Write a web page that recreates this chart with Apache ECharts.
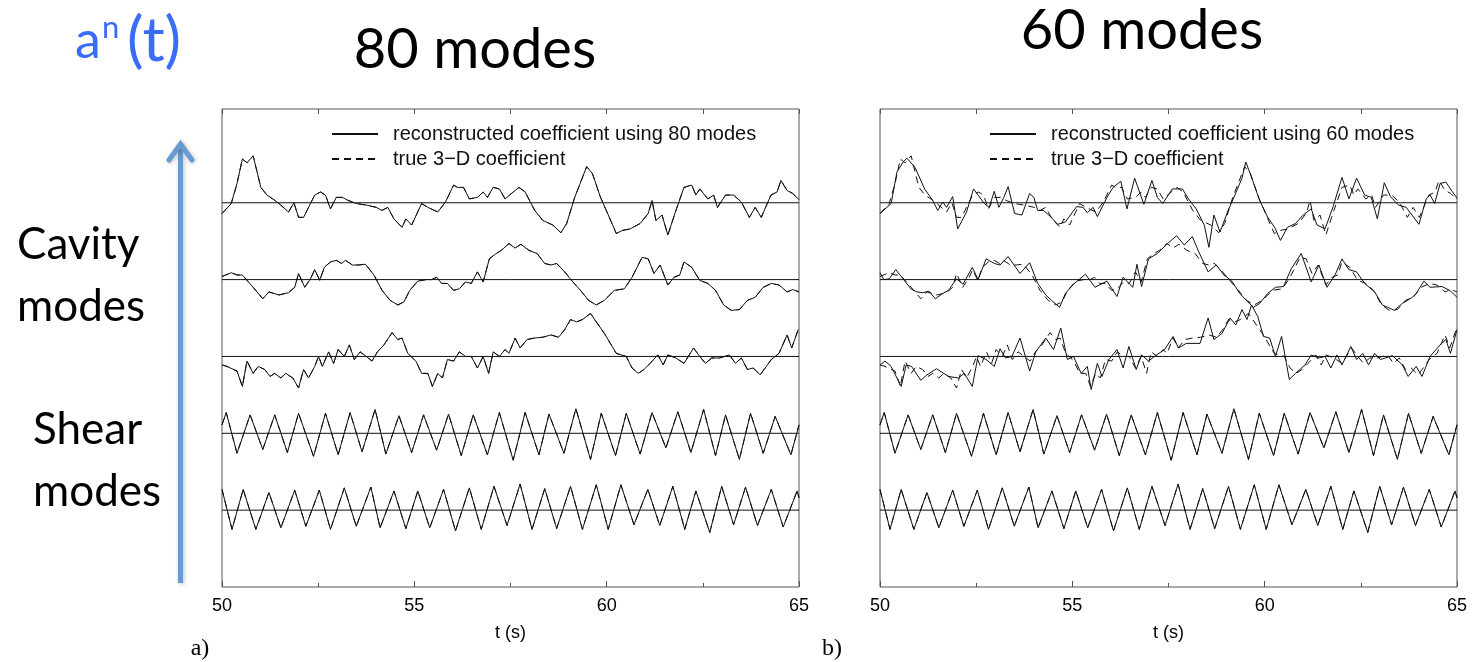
<!DOCTYPE html>
<html><head><meta charset="utf-8">
<script src="https://cdn.jsdelivr.net/npm/echarts@6/dist/echarts.min.js"></script>
<style>html,body{margin:0;padding:0;background:#fff}#c{width:1479px;height:662px}</style>
</head><body><div id="c"></div><script>
// ---------- data (t in s, value in units where trace spacing = 100) ----------
const xTickLabels = ['50', '55', '60', '65'];
const offsets = [500, 400, 300, 200, 100];   // top cavity ... lower shear

// true 3-D coefficient (the 80-mode reconstruction is indistinguishable from it)
const cavTop = [[50.00,-14],[50.24,-1],[50.39,25],[50.53,57],[50.65,52],[50.81,61],[51.01,20],[51.17,10],[51.32,5],[51.48,-1],[51.73,-12],[51.87,0],[51.99,-19],[52.12,-19],[52.41,10],[52.56,14],[52.69,10],[52.82,-8],[52.97,7],[53.13,7],[53.28,3],[53.49,-1],[53.75,-3],[54.01,-6],[54.16,-10],[54.31,-6],[54.47,-21],[54.68,-32],[54.78,-21],[54.93,-29],[55.19,-1],[55.35,-6],[55.61,-12],[55.81,1],[56.02,23],[56.12,20],[56.28,20],[56.43,5],[56.64,7],[56.79,14],[56.90,7],[57.05,20],[57.21,18],[57.36,5],[57.57,14],[57.72,20],[57.88,14],[58.13,-10],[58.34,-23],[58.60,-29],[58.81,-39],[58.96,-27],[59.17,7],[59.48,47],[59.63,38],[59.84,7],[59.99,-10],[60.25,-40],[60.41,-36],[60.61,-34],[60.87,-27],[61.08,-14],[61.18,3],[61.28,-23],[61.44,-16],[61.59,-42],[61.80,-10],[62.01,20],[62.21,23],[62.32,10],[62.42,18],[62.63,5],[62.78,10],[62.88,-6],[63.09,10],[63.30,10],[63.50,1],[63.71,-19],[63.86,-6],[64.02,-19],[64.27,10],[64.43,14],[64.53,29],[64.69,16],[64.84,12],[65.00,4]];
const cavMid = [[50.00,4],[50.24,9],[50.39,6],[50.53,6],[50.65,-1],[50.81,-10],[51.06,-25],[51.22,-16],[51.48,-20],[51.73,-17],[51.89,-10],[51.99,8],[52.15,-10],[52.30,1],[52.41,13],[52.54,-1],[52.66,16],[52.82,23],[52.97,25],[53.11,21],[53.21,25],[53.39,19],[53.54,19],[53.73,20],[53.95,6],[54.16,-14],[54.37,-27],[54.57,-33],[54.73,-29],[54.88,-14],[55.09,-2],[55.30,0],[55.45,0],[55.58,3],[55.71,-5],[55.86,-5],[56.02,-14],[56.17,-12],[56.33,-3],[56.48,-5],[56.64,10],[56.79,-3],[56.95,27],[57.10,33],[57.26,38],[57.46,47],[57.62,41],[57.77,46],[57.98,38],[58.19,34],[58.39,21],[58.55,19],[58.70,21],[58.91,10],[59.12,-3],[59.32,-14],[59.53,-27],[59.73,-33],[59.94,-27],[60.20,-14],[60.46,-12],[60.66,3],[60.92,29],[61.08,27],[61.23,8],[61.39,19],[61.59,-7],[61.75,3],[61.90,6],[62.01,23],[62.21,16],[62.42,-1],[62.63,-5],[62.83,-14],[63.04,-33],[63.24,-40],[63.45,-39],[63.66,-27],[63.86,-23],[64.07,-10],[64.28,-5],[64.48,-7],[64.69,-16],[64.84,-13],[65.00,-16]];
const cavLow = [[50.00,-11],[50.13,-13],[50.39,-19],[50.53,-39],[50.65,-6],[50.81,-22],[50.94,-13],[51.11,-17],[51.25,-26],[51.37,-22],[51.53,-28],[51.66,-22],[51.84,-28],[51.99,-41],[52.12,-17],[52.25,-28],[52.41,-13],[52.51,0],[52.61,-13],[52.77,6],[52.90,-9],[53.02,9],[53.18,0],[53.31,15],[53.44,-4],[53.59,6],[53.75,0],[53.90,-6],[54.04,6],[54.21,15],[54.42,31],[54.57,22],[54.68,24],[54.83,4],[55.04,-6],[55.19,-22],[55.35,-22],[55.47,-39],[55.61,-22],[55.73,-28],[55.86,-4],[56.02,-6],[56.17,6],[56.33,0],[56.48,0],[56.64,-15],[56.79,0],[56.93,-22],[57.05,6],[57.21,0],[57.36,9],[57.46,4],[57.62,24],[57.75,11],[57.93,22],[58.13,24],[58.34,25],[58.55,28],[58.75,25],[58.91,35],[59.06,48],[59.22,45],[59.37,48],[59.58,56],[59.73,45],[59.94,30],[60.25,4],[60.51,0],[60.66,-15],[60.82,-22],[60.97,-17],[61.13,-9],[61.33,2],[61.47,-11],[61.59,2],[61.80,-2],[62.01,-9],[62.26,11],[62.42,0],[62.57,-9],[62.73,-2],[62.93,-2],[63.19,2],[63.35,-9],[63.50,-2],[63.66,-17],[63.81,-15],[63.99,-24],[64.28,-4],[64.48,4],[64.69,28],[64.81,11],[64.98,35]];
const shearUp = [[50.00,11],[50.11,27],[50.39,-26],[50.73,24],[51.06,-21],[51.37,24],[51.70,-25],[51.99,26],[52.38,-30],[52.69,26],[53.02,-28],[53.33,27],[53.64,-24],[53.98,31],[54.26,-27],[54.60,23],[54.93,-25],[55.24,24],[55.58,-22],[55.89,25],[56.22,-29],[56.53,24],[56.90,-28],[57.21,27],[57.57,-35],[57.88,27],[58.24,-28],[58.50,25],[58.89,-26],[59.20,32],[59.58,-34],[59.86,26],[60.23,-29],[60.51,26],[60.87,-27],[61.18,27],[61.54,-19],[61.85,28],[62.19,-25],[62.52,31],[62.83,-29],[63.09,24],[63.45,-34],[63.74,26],[64.07,-26],[64.38,22],[64.79,-28],[65.00,11]];
const shearLow = [[50.00,27],[50.26,-25],[50.55,27],[50.88,-25],[51.22,23],[51.53,-23],[51.89,26],[52.18,-21],[52.53,26],[52.82,-25],[53.18,29],[53.49,-21],[53.87,30],[54.11,-23],[54.47,25],[54.78,-24],[55.09,25],[55.40,-23],[55.76,27],[56.07,-27],[56.43,29],[56.74,-25],[57.07,31],[57.41,-20],[57.75,34],[58.06,-25],[58.39,28],[58.70,-24],[59.06,31],[59.37,-25],[59.73,33],[60.04,-25],[60.37,33],[60.71,-19],[61.07,27],[61.38,-20],[61.72,31],[62.03,-25],[62.32,25],[62.68,-29],[62.99,31],[63.30,-19],[63.61,30],[63.92,-20],[64.28,27],[64.59,-22],[64.95,25],[65.00,16]];

// reconstruction using 60 modes (cavity modes)
const cavTop60 = [[50.00,-14],[50.29,-1],[50.44,40],[50.60,53],[50.70,58],[50.91,46],[51.16,18],[51.37,3],[51.50,-10],[51.63,1],[51.73,-6],[51.89,8],[52.02,-34],[52.25,-12],[52.43,18],[52.55,10],[52.71,-1],[52.84,-6],[52.97,15],[53.09,-6],[53.22,7],[53.33,21],[53.50,-14],[53.69,-16],[53.89,12],[54.00,7],[54.10,-10],[54.25,-10],[54.39,-16],[54.62,-28],[54.82,-25],[55.11,-5],[55.28,-6],[55.39,-13],[55.54,-6],[55.65,-18],[55.90,7],[56.06,20],[56.26,28],[56.42,-8],[56.62,32],[56.86,-2],[57.07,29],[57.21,7],[57.35,-1],[57.60,18],[57.86,18],[58.02,5],[58.22,-8],[58.43,-29],[58.55,-58],[58.68,-16],[58.84,-38],[59.05,-10],[59.20,7],[59.41,32],[59.51,53],[59.66,33],[59.87,3],[60.08,-19],[60.26,-32],[60.41,-49],[60.59,-32],[60.80,-27],[61.00,-16],[61.21,-8],[61.36,-29],[61.57,-34],[61.78,-5],[62.01,33],[62.19,5],[62.39,32],[62.60,10],[62.77,7],[62.93,-21],[63.11,26],[63.27,8],[63.48,-3],[63.68,-6],[64.01,-28],[64.20,5],[64.30,10],[64.42,-1],[64.56,25],[64.71,27],[64.87,15],[65.00,6]];
const cavMid60 = [[50.00,9],[50.10,0],[50.24,1],[50.41,13],[50.60,1],[50.80,-12],[50.96,-16],[51.11,-17],[51.27,-15],[51.44,-25],[51.63,-18],[51.78,-14],[51.99,1],[52.16,-6],[52.40,16],[52.55,0],[52.76,27],[52.97,21],[53.12,19],[53.33,30],[53.64,8],[53.89,22],[54.10,-5],[54.31,-20],[54.46,-27],[54.67,-36],[54.82,-18],[55.03,-6],[55.34,7],[55.59,-10],[55.90,-2],[56.16,-22],[56.32,3],[56.57,-10],[56.68,20],[56.80,-9],[56.98,27],[57.21,34],[57.50,48],[57.71,57],[57.91,45],[58.12,56],[58.27,38],[58.53,10],[58.74,19],[58.94,6],[59.15,-2],[59.35,-18],[59.56,-29],[59.71,-36],[59.87,-31],[60.08,-18],[60.28,-10],[60.49,-9],[60.69,14],[60.95,34],[61.21,-3],[61.41,19],[61.62,-10],[61.83,6],[62.01,27],[62.19,13],[62.39,10],[62.60,-5],[62.86,-16],[63.06,-33],[63.37,-40],[63.58,-31],[63.84,-23],[63.94,-18],[64.14,-2],[64.30,-10],[64.61,-9],[64.81,-14],[65.00,-23]];
const cavLow60 = [[50.00,-11],[50.13,-6],[50.29,-13],[50.55,-39],[50.68,-11],[50.82,-13],[51.06,-31],[51.22,-24],[51.47,-16],[51.78,-26],[52.04,-28],[52.19,-22],[52.40,-39],[52.55,1],[52.76,-4],[52.97,-13],[53.12,10],[53.26,-2],[53.43,0],[53.64,24],[53.89,-19],[54.05,6],[54.31,24],[54.51,9],[54.70,37],[54.87,-4],[55.03,0],[55.23,-22],[55.39,-13],[55.49,-43],[55.65,-9],[55.77,-26],[55.95,-4],[56.16,9],[56.32,-15],[56.47,13],[56.66,-17],[56.80,2],[56.98,-6],[57.19,2],[57.40,9],[57.62,26],[57.76,11],[57.96,17],[58.32,17],[58.53,50],[58.68,22],[58.89,30],[59.10,50],[59.25,41],[59.41,61],[59.54,48],[59.66,67],[59.82,52],[59.97,26],[60.13,24],[60.28,0],[60.44,26],[60.64,-30],[60.80,-22],[61.05,-11],[61.21,2],[61.41,-2],[61.57,0],[61.72,-15],[61.88,2],[62.01,-11],[62.24,13],[62.39,-4],[62.55,4],[62.70,-11],[62.86,4],[63.01,-4],[63.32,1],[63.58,-11],[63.73,-26],[63.94,-13],[64.09,-26],[64.30,0],[64.56,15],[64.71,22],[64.83,4],[65.00,35]];

const name80 = 'reconstructed coefficient using 80 modes';
const name60 = 'reconstructed coefficient using 60 modes';
const nameTrue = 'true 3\u2212D coefficient';

const trueSets = [cavTop, cavMid, cavLow, shearUp, shearLow];
const rec80Sets = [cavTop, cavMid, cavLow, shearUp, shearLow];
const rec60Sets = [cavTop60, cavMid60, cavLow60, shearUp, shearLow];

// ---------- chart ----------
const ink = '#111';
const frame = '#555';
const panels = [
  {left: 222, right: 1479 - 799, recName: name80, rec: rec80Sets},
  {left: 880, right: 1479 - 1457, recName: name60, rec: rec60Sets}
];
const TOP = 109, BOTTOM = 662 - 587;

const grid = [], xAxis = [], yAxis = [], series = [], legend = [];
panels.forEach((p, i) => {
  grid.push({left: p.left, right: p.right, top: TOP, bottom: BOTTOM, show: true, borderColor: frame, borderWidth: 1, containLabel: false});
  xAxis.push({gridIndex: i, type: 'value', min: 50, max: 65, interval: 5, position: 'bottom',
    axisLine: {show: false}, splitLine: {show: false},
    axisTick: {show: true, inside: true, length: 6, lineStyle: {color: frame}},
    minorTick: {show: true, splitNumber: 2, length: 4, lineStyle: {color: frame}},
    axisLabel: {margin: 10, fontFamily: 'Liberation Sans', fontSize: 18, color: '#000',
      formatter: v => xTickLabels.includes(String(v)) ? String(v) : ''},
    name: 't (s)', nameLocation: 'middle', nameGap: 37,
    nameTextStyle: {fontFamily: 'Liberation Sans', fontSize: 18, color: '#000'}});
  xAxis.push({gridIndex: i, type: 'value', min: 50, max: 65, interval: 2.5, position: 'top',
    axisLine: {show: false}, splitLine: {show: false}, axisLabel: {show: false},
    axisTick: {show: true, inside: true, length: 5, lineStyle: {color: frame}}});
  yAxis.push({gridIndex: i, type: 'value', min: 0, max: 622, axisLine: {show: false},
    axisTick: {show: false}, axisLabel: {show: false}, splitLine: {show: false}});
  const xi = i * 2;
  offsets.forEach((off, k) => {
    series.push({type: 'line', name: 'baseline', xAxisIndex: xi, yAxisIndex: i, symbol: 'none', silent: true,
      data: [[50, off], [65, off]], lineStyle: {color: ink, width: 1}, z: 1});
    series.push({type: 'line', name: p.recName, xAxisIndex: xi, yAxisIndex: i, symbol: 'none', silent: true,
      data: p.rec[k].map(d => [d[0], d[1] + off]), lineStyle: {color: ink, width: 1}, itemStyle: {color: ink}, z: 2});
    series.push({type: 'line', name: nameTrue, xAxisIndex: xi, yAxisIndex: i, symbol: 'none', silent: true,
      data: trueSets[k].map(d => [d[0], d[1] + off]), lineStyle: {color: ink, width: 1, type: [7, 5]}, itemStyle: {color: ink}, z: 3});
  });
  legend.push({data: [p.recName, nameTrue], orient: 'vertical', left: p.left + 104, top: 119,
    itemWidth: 46, itemHeight: 14, itemGap: 5, selectedMode: false,
    itemStyle: {opacity: 0},
    textStyle: {fontFamily: 'Liberation Sans', fontSize: 20, color: '#111', padding: [0, 0, 0, 10]}});
});

const blue = '#3B6CF5';
const arrowBlue = '#6A9BD0';
const graphic = [
  {type: 'text', x: 75, y: 41, style: {text: 'a', font: '52px Lato', fill: blue, textVerticalAlign: 'middle'}},
  {type: 'text', x: 102, y: 28, style: {text: 'n', font: '31px Lato', fill: blue, textVerticalAlign: 'middle'}},
  {type: 'text', x: 127, y: 41, style: {text: '(t)', font: '62px Lato', fill: blue, textVerticalAlign: 'middle'}},
  {type: 'text', x: 475, y: 50, style: {text: '80 modes', font: '56px Lato', fill: '#000', textAlign: 'center', textVerticalAlign: 'middle'}},
  {type: 'text', x: 1142, y: 31, style: {text: '60 modes', font: '56px Lato', fill: '#000', textAlign: 'center', textVerticalAlign: 'middle'}},
  {type: 'text', x: 17, y: 245, style: {text: 'Cavity', font: '44px Lato', fill: '#000', textVerticalAlign: 'middle'}},
  {type: 'text', x: 17, y: 307, style: {text: 'modes', font: '44px Lato', fill: '#000', textVerticalAlign: 'middle'}},
  {type: 'text', x: 33, y: 430, style: {text: 'Shear', font: '44px Lato', fill: '#000', textVerticalAlign: 'middle'}},
  {type: 'text', x: 33, y: 492, style: {text: 'modes', font: '44px Lato', fill: '#000', textVerticalAlign: 'middle'}},
  {type: 'text', x: 200, y: 649, style: {text: 'a)', font: '24px "Liberation Serif"', fill: '#000', textAlign: 'center', textVerticalAlign: 'middle'}},
  {type: 'text', x: 832, y: 649, style: {text: 'b)', font: '24px "Liberation Serif"', fill: '#000', textAlign: 'center', textVerticalAlign: 'middle'}},
  {type: 'line', shape: {x1: 180.5, y1: 583, x2: 180.5, y2: 144}, style: {stroke: arrowBlue, lineWidth: 5, shadowBlur: 4, shadowColor: 'rgba(0,0,0,0.25)', shadowOffsetX: 1, shadowOffsetY: 1}},
  {type: 'polyline', shape: {points: [[169, 160], [180.5, 144], [192, 160]]}, style: {stroke: arrowBlue, lineWidth: 5, fill: null, lineCap: 'round', lineJoin: 'miter', shadowBlur: 4, shadowColor: 'rgba(0,0,0,0.25)', shadowOffsetX: 1, shadowOffsetY: 1}}
];

const chart = echarts.init(document.getElementById('c'), null, {renderer: 'canvas'});
chart.setOption({animation: false, backgroundColor: '#fff', grid, xAxis, yAxis, series, legend, graphic});
</script></body></html>
